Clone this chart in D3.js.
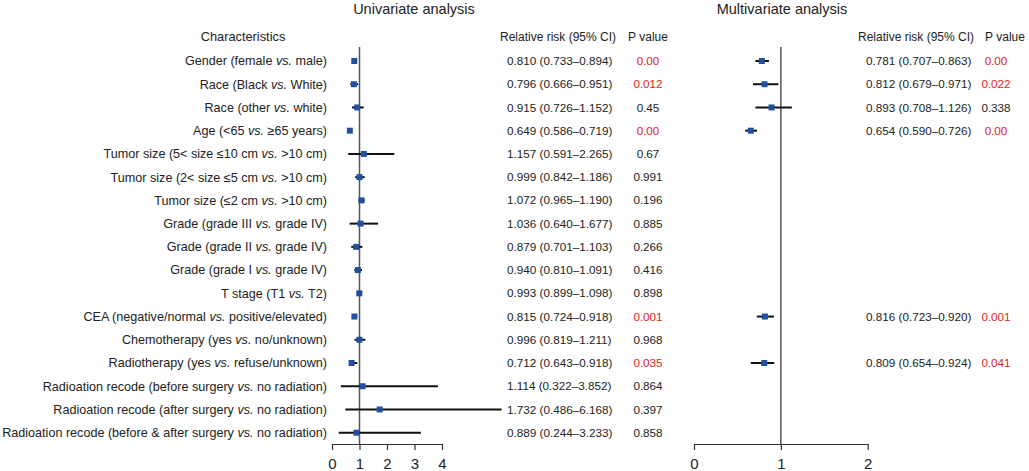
<!DOCTYPE html>
<html lang="en">
<head>
    <meta charset="utf-8">
    <title>Univariate and multivariate analysis</title>
    <script src="https://cdnjs.cloudflare.com/ajax/libs/d3/7.8.5/d3.min.js"></script>
    <style>
        body { margin: 0; background: #fff; }
        svg text { font-family: "Liberation Sans", Arial, Helvetica, sans-serif; fill: #222; }
    </style>
</head>
<body>
    <svg id="chart"></svg>

    <script>
        // Row labels, split around the italic "vs."
        const labelsBefore = [
            'Gender (female', 'Race (Black', 'Race (other', 'Age (<65',
            'Tumor size (5< size ≤10 cm', 'Tumor size (2< size ≤5 cm', 'Tumor size (≤2 cm',
            'Grade (grade III', 'Grade (grade II', 'Grade (grade I', 'T stage (T1',
            'CEA (negative/normal', 'Chemotherapy (yes', 'Radiotherapy (yes',
            'Radioation recode (before surgery', 'Radioation recode (after surgery',
            'Radioation recode (before & after surgery'
        ];
        const labelsAfter = [
            'male)', 'White)', 'white)', '≥65 years)',
            '>10 cm)', '>10 cm)', '>10 cm)',
            'grade IV)', 'grade IV)', 'grade IV)', 'T2)',
            'positive/elevated)', 'no/unknown)', 'refuse/unknown)',
            'no radiation)', 'no radiation)', 'no radiation)'
        ];

        // Univariate analysis
        const uniRR    = [0.810, 0.796, 0.915, 0.649, 1.157, 0.999, 1.072, 1.036, 0.879, 0.940, 0.993, 0.815, 0.996, 0.712, 1.114, 1.732, 0.889];
        const uniLow   = [0.733, 0.666, 0.726, 0.586, 0.591, 0.842, 0.965, 0.640, 0.701, 0.810, 0.899, 0.724, 0.819, 0.643, 0.322, 0.486, 0.244];
        const uniHigh  = [0.894, 0.951, 1.152, 0.719, 2.265, 1.186, 1.190, 1.677, 1.103, 1.091, 1.098, 0.918, 1.211, 0.918, 3.852, 6.168, 3.233];
        const uniP     = ['0.00', '0.012', '0.45', '0.00', '0.67', '0.991', '0.196', '0.885', '0.266', '0.416', '0.898', '0.001', '0.968', '0.035', '0.864', '0.397', '0.858'];
        const uniSig   = [true, true, false, true, false, false, false, false, false, false, false, true, false, true, false, false, false];

        // Multivariate analysis (row index into the labels above)
        const multiRow  = [0, 1, 2, 3, 11, 13];
        const multiRR   = [0.781, 0.812, 0.893, 0.654, 0.816, 0.809];
        const multiLow  = [0.707, 0.679, 0.708, 0.590, 0.723, 0.654];
        const multiHigh = [0.863, 0.971, 1.126, 0.726, 0.920, 0.924];
        const multiP    = ['0.00', '0.022', '0.338', '0.00', '0.001', '0.041'];
        const multiSig  = [true, true, false, true, true, true];

        const uniTicks = [0, 1, 2, 3, 4];
        const multiTicks = [0, 1, 2];

        const width = 1029;
        const height = 471;
        const blue = '#22509e';
        const red = '#e2231a';

        const svg = d3.select('#chart')
            .attr('width', width)
            .attr('height', height);

        const y = d3.scalePoint()
            .domain(d3.range(labelsBefore.length))
            .range([61, 432.7]);

        const xUni = d3.scaleLinear().domain([0, 4]).range([332, 442]);
        const xMulti = d3.scaleLinear().domain([0, 2]).range([694, 867.7]);

        const fmt = d3.format('.3f');
        const rrText = (rr, lo, hi) => `${fmt(rr)} (${fmt(lo)}–${fmt(hi)})`;

        // Titles and headers
        svg.append('text').attr('x', 414).attr('y', 9).attr('dy', '0.35em')
            .attr('text-anchor', 'middle').style('font-size', '14.5px').text('Univariate analysis');
        svg.append('text').attr('x', 782).attr('y', 9).attr('dy', '0.35em')
            .attr('text-anchor', 'middle').style('font-size', '14.5px').text('Multivariate analysis');

        const headers = [
            { x: 243, text: 'Characteristics', size: 12.8 },
            { x: 558, text: 'Relative risk (95% CI)', size: 12 },
            { x: 648, text: 'P value', size: 12 },
            { x: 916, text: 'Relative risk (95% CI)', size: 12 },
            { x: 1005, text: 'P value', size: 12 }
        ];
        svg.append('g').selectAll('text')
            .data(headers)
            .enter().append('text')
            .attr('x', d => d.x)
            .attr('y', 37)
            .attr('dy', '0.35em')
            .attr('text-anchor', 'middle')
            .style('font-size', d => d.size + 'px')
            .text(d => d.text);

        // Row labels
        const label = svg.append('g').selectAll('text')
            .data(labelsBefore)
            .enter().append('text')
            .attr('x', 327)
            .attr('y', (d, i) => y(i))
            .attr('dy', '0.35em')
            .attr('text-anchor', 'end')
            .style('font-size', '12.6px');
        label.append('tspan').text(d => d + ' ');
        label.append('tspan').style('font-style', 'italic').text('vs.');
        label.append('tspan').text((d, i) => ' ' + labelsAfter[i]);

        function drawPanel(x, ticks, rows, rr, lo, hi) {
            const g = svg.append('g');

            const axis = d3.axisBottom(x)
                .tickValues(ticks)
                .tickFormat(d3.format('d'))
                .tickSize(6)
                .tickSizeOuter(0)
                .tickPadding(8);

            const ax = g.append('g')
                .attr('transform', 'translate(0,444)')
                .call(axis);
            ax.select('.domain').attr('stroke', '#333').attr('stroke-width', 1.2);
            ax.selectAll('.tick line').attr('stroke', '#333').attr('stroke-width', 1.2);
            ax.selectAll('.tick text')
                .style('font-family', '"Liberation Sans", Arial, sans-serif')
                .style('font-size', '15px')
                .attr('fill', '#222');

            // reference line at 1
            g.append('line')
                .attr('x1', x(1)).attr('x2', x(1))
                .attr('y1', 47).attr('y2', 444)
                .attr('stroke', '#555')
                .attr('stroke-width', 1.5);

            g.append('g').selectAll('line')
                .data(rows)
                .enter().append('line')
                .attr('x1', (d, i) => x(lo[i]))
                .attr('x2', (d, i) => x(hi[i]))
                .attr('y1', d => y(d))
                .attr('y2', d => y(d))
                .attr('stroke', '#111')
                .attr('stroke-width', 2);

            g.append('g').selectAll('rect')
                .data(rows)
                .enter().append('rect')
                .attr('x', (d, i) => x(rr[i]) - 3)
                .attr('y', d => y(d) - 3)
                .attr('width', 6)
                .attr('height', 6)
                .attr('fill', blue);
        }

        drawPanel(xUni, uniTicks, d3.range(uniRR.length), uniRR, uniLow, uniHigh);
        drawPanel(xMulti, multiTicks, multiRow, multiRR, multiLow, multiHigh);

        // Value columns
        const uniRows = d3.range(uniRR.length);
        svg.append('g').selectAll('text')
            .data(uniRows)
            .enter().append('text')
            .attr('x', 507)
            .attr('y', d => y(d))
            .attr('dy', '0.35em')
            .style('font-size', '11.7px')
            .text(d => rrText(uniRR[d], uniLow[d], uniHigh[d]));

        svg.append('g').selectAll('text')
            .data(uniRows)
            .enter().append('text')
            .attr('x', 648)
            .attr('y', d => y(d))
            .attr('dy', '0.35em')
            .attr('text-anchor', 'middle')
            .style('font-size', '11.7px')
            .style('fill', d => uniSig[d] ? red : '#222')
            .text(d => uniP[d]);

        svg.append('g').selectAll('text')
            .data(multiRow)
            .enter().append('text')
            .attr('x', 866)
            .attr('y', d => y(d))
            .attr('dy', '0.35em')
            .style('font-size', '11.7px')
            .text((d, i) => rrText(multiRR[i], multiLow[i], multiHigh[i]));

        svg.append('g').selectAll('text')
            .data(multiRow)
            .enter().append('text')
            .attr('x', 996)
            .attr('y', d => y(d))
            .attr('dy', '0.35em')
            .attr('text-anchor', 'middle')
            .style('font-size', '11.7px')
            .style('fill', (d, i) => multiSig[i] ? red : '#222')
            .text((d, i) => multiP[i]);
    </script>
</body>
</html>
